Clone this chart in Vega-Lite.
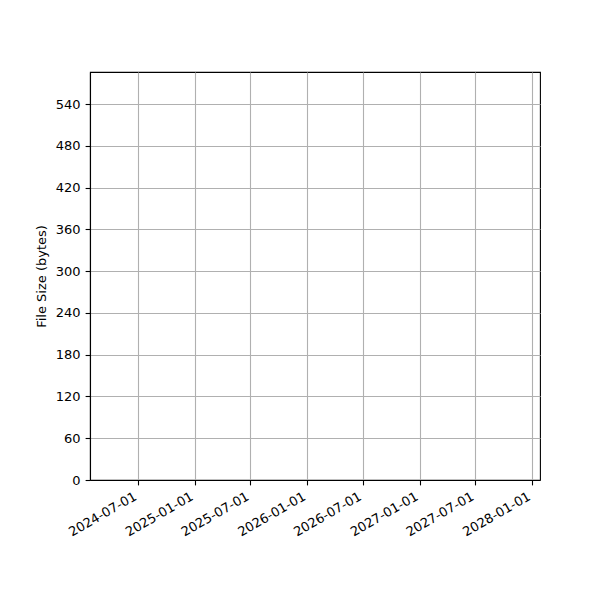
{
  "$schema": "https://vega.github.io/schema/vega-lite/v6.json",
  "width": 450,
  "height": 408,
  "autosize": "none",
  "padding": {"left": 90, "top": 72, "right": 60, "bottom": 120},
  "background": "white",
  "data": {"values": []},
  "mark": {"type": "line", "color": "#1f77b4"},
  "encoding": {
    "x": {
      "field": "date",
      "type": "temporal",
      "title": null,
      "scale": {
        "type": "utc",
        "domain": [
          {"year": 2024, "month": 1, "date": 27, "utc": true},
          {"year": 2028, "month": 1, "date": 27, "utc": true}
        ]
      },
      "axis": {
        "values": [
          {"year": 2024, "month": 7, "date": 1, "utc": true},
          {"year": 2025, "month": 1, "date": 1, "utc": true},
          {"year": 2025, "month": 7, "date": 1, "utc": true},
          {"year": 2026, "month": 1, "date": 1, "utc": true},
          {"year": 2026, "month": 7, "date": 1, "utc": true},
          {"year": 2027, "month": 1, "date": 1, "utc": true},
          {"year": 2027, "month": 7, "date": 1, "utc": true},
          {"year": 2028, "month": 1, "date": 1, "utc": true}
        ],
        "format": "%Y-%m-%d",
        "labelAngle": -30,
        "labelAlign": "right",
        "labelBaseline": "top",
        "labelPadding": 5,
        "labelOffset": -6
      }
    },
    "y": {
      "field": "size",
      "type": "quantitative",
      "title": "File Size (bytes)",
      "scale": {"domain": [0, 586], "nice": false, "zero": true},
      "axis": {"values": [0, 60, 120, 180, 240, 300, 360, 420, 480, 540], "titlePadding": 7, "labelPadding": 5}
    }
  },
  "config": {
    "font": "DejaVu Sans",
    "view": {"stroke": "black", "strokeWidth": 1.1},
    "axis": {
      "grid": true,
      "gridColor": "#b0b0b0",
      "gridWidth": 1.1,
      "domainColor": "black",
      "domainWidth": 1.1,
      "tickColor": "black",
      "tickSize": 4.9,
      "tickWidth": 1.1,
      "labelColor": "black",
      "labelFontSize": 13,
      "labelFont": "DejaVu Sans",
      "titleFont": "DejaVu Sans",
      "titleFontSize": 13,
      "titleFontWeight": "normal",
      "titleColor": "black",
      "labelFlush": false,
      "labelOverlap": false
    }
  }
}
